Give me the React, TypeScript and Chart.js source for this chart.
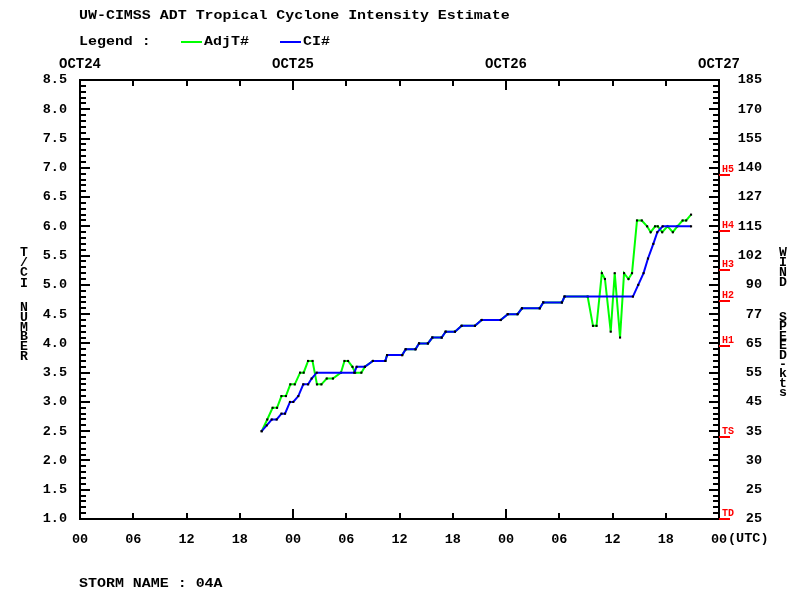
import React, { useEffect, useRef } from 'react';
import { Chart, registerables } from 'chart.js';

Chart.register(...registerables);

// ---------- text ----------
const TITLE = 'UW-CIMSS ADT Tropical Cyclone Intensity Estimate';
const LEGEND_CAPTION = 'Legend :';
const STORM_NAME = 'STORM NAME : 04A';
const SERIES_NAMES = ['AdjT#', 'CI#'];
const LEFT_AXIS_TITLE = ['T/CI', 'NUMBER'];
const RIGHT_AXIS_TITLE = ['WIND', 'SPEED-kts'];
const UTC_SUFFIX = '(UTC)';

// ---------- axes ----------
const DATE_LABELS = ['OCT24', 'OCT25', 'OCT26', 'OCT27'];
const HOUR_LABELS = ['00', '06', '12', '18', '00', '06', '12', '18', '00', '06', '12', '18', '00'];
// wind speed labels for CI = 1.0, 1.5, ... 8.5
const WIND_LABELS = ['25', '25', '30', '35', '45', '55', '65', '77', '90', '102', '115', '127', '140', '155', '170', '185'];
const CATEGORY_NAMES = ['TD', 'TS', 'H1', 'H2', 'H3', 'H4', 'H5'];
const CATEGORY_CI = [1.0, 2.4, 3.95, 4.73, 5.25, 5.92, 6.88];

// ---------- data (hours since OCT24 00 UTC) ----------
const ADJT_HOURS = [
  20.47, 21.1, 21.7, 22.2, 22.7, 23.2, 23.7, 24.2, 24.8, 25.2,
  25.7, 26.2, 26.7, 27.2, 27.8, 28.5, 29.4, 29.8, 30.2, 30.7,
  31.0, 31.7, 32.1, 33.0, 34.4, 34.6, 36.3, 36.7, 37.8, 38.2,
  39.2, 39.7, 40.75, 41.2, 42.25, 43.0, 44.5, 45.26, 47.4, 48.2,
  49.3, 49.8, 51.8, 52.2, 54.3, 54.6, 57.2, 57.8, 58.2, 58.8,
  59.15, 59.8, 60.25, 60.85, 61.3, 61.8, 62.2, 62.76, 63.3, 63.9,
  64.3, 64.8, 65.1, 65.6, 66.2, 66.8, 67.3, 67.9, 68.3, 68.85,
];
const ADJT_VALUES = [
  2.5, 2.7, 2.9, 2.9, 3.1, 3.1, 3.3, 3.3, 3.5, 3.5,
  3.7, 3.7, 3.3, 3.3, 3.4, 3.4, 3.5, 3.7, 3.7, 3.6,
  3.5, 3.5, 3.6, 3.7, 3.7, 3.8, 3.8, 3.9, 3.9, 4.0,
  4.0, 4.1, 4.1, 4.2, 4.2, 4.3, 4.3, 4.4, 4.4, 4.5,
  4.5, 4.6, 4.6, 4.7, 4.7, 4.8, 4.8, 4.3, 4.3, 5.2,
  5.1, 4.2, 5.2, 4.1, 5.2, 5.1, 5.2, 6.1, 6.1, 6.0,
  5.9, 6.0, 6.0, 5.9, 6.0, 5.9, 6.0, 6.1, 6.1, 6.2,
];
const CI_HOURS = [
  20.47, 21.04, 21.6, 22.16, 22.7, 23.1, 23.66, 24.03, 24.6, 25.16,
  25.7, 26.1, 26.67, 30.9, 31.17, 32.1, 33.0, 34.4, 34.6, 36.3,
  36.7, 37.8, 38.2, 39.2, 39.7, 40.75, 41.2, 42.25, 43.0, 44.5,
  45.26, 47.4, 48.2, 49.3, 49.8, 51.8, 52.2, 54.3, 54.6, 62.3,
  62.9, 63.5, 64.0, 64.6, 65.05, 65.65, 68.85,
];
const CI_VALUES = [
  2.5, 2.6, 2.7, 2.7, 2.8, 2.8, 3.0, 3.0, 3.1, 3.3,
  3.3, 3.4, 3.5, 3.5, 3.6, 3.6, 3.7, 3.7, 3.8, 3.8,
  3.9, 3.9, 4.0, 4.0, 4.1, 4.1, 4.2, 4.2, 4.3, 4.3,
  4.4, 4.4, 4.5, 4.5, 4.6, 4.6, 4.7, 4.7, 4.8, 4.8,
  5.0, 5.2, 5.45, 5.7, 5.9, 6.0, 6.0,
];

const GREEN = '#00ff00';
const BLUE = '#0000ff';
const RED = '#ff0000';
const MONO = '"Liberation Mono", "DejaVu Sans Mono", monospace';

function scaledText(ctx: CanvasRenderingContext2D, text: string, x: number, y: number, sx: number, align: CanvasTextAlign = 'left') {
  ctx.save();
  ctx.translate(x, y);
  ctx.scale(sx, 1);
  ctx.textAlign = align;
  ctx.fillText(text, 0, 0);
  ctx.restore();
}

const decorPlugin = {
  id: 'decor',
  afterDraw(chart: any) {
    const ctx: CanvasRenderingContext2D = chart.ctx;
    const { left, right, top, bottom } = chart.chartArea;
    const xs = chart.scales.x;
    const ys = chart.scales.y;
    ctx.save();

    // inward tick marks
    ctx.strokeStyle = '#000';
    ctx.lineWidth = 2;
    ctx.beginPath();
    for (let i = 10; i <= 85; i++) {
      const py = Math.round(ys.getPixelForValue(i / 10));
      const len = i % 5 === 0 ? 10 : 6;
      ctx.moveTo(left, py);
      ctx.lineTo(left + len, py);
      ctx.moveTo(right, py);
      ctx.lineTo(right - len, py);
    }
    for (let h = 0; h <= 72; h += 6) {
      const px = Math.round(xs.getPixelForValue(h));
      const len = h % 24 === 0 ? 10 : 6;
      ctx.moveTo(px, bottom);
      ctx.lineTo(px, bottom - len);
      ctx.moveTo(px, top);
      ctx.lineTo(px, top + len);
    }
    ctx.stroke();

    // category markers on the right axis
    ctx.fillStyle = RED;
    ctx.strokeStyle = RED;
    ctx.font = `bold 10px ${MONO}`;
    ctx.textBaseline = 'alphabetic';
    CATEGORY_NAMES.forEach((name, i) => {
      const py = Math.round(ys.getPixelForValue(CATEGORY_CI[i]));
      ctx.beginPath();
      ctx.moveTo(right, py);
      ctx.lineTo(right + 11, py);
      ctx.stroke();
      ctx.fillText(name, right + 3, py - 3);
    });

    // titles and legend
    ctx.fillStyle = '#000';
    ctx.font = `bold 13px ${MONO}`;
    ctx.textBaseline = 'middle';
    scaledText(ctx, TITLE, 79, 16, 1.15);
    scaledText(ctx, LEGEND_CAPTION, 79, 42, 1.15);
    scaledText(ctx, STORM_NAME, 79, 584, 1.15);

    const legendItems = [
      { name: SERIES_NAMES[0], color: GREEN, x0: 181 },
      { name: SERIES_NAMES[1], color: BLUE, x0: 280 },
    ];
    legendItems.forEach((it) => {
      ctx.strokeStyle = it.color;
      ctx.lineWidth = 2;
      ctx.beginPath();
      ctx.moveTo(it.x0, 42);
      ctx.lineTo(it.x0 + 21, 42);
      ctx.stroke();
      ctx.fillStyle = '#000';
      scaledText(ctx, it.name, it.x0 + 23, 42, 1.15);
    });

    // (UTC) after last hour label
    ctx.font = `bold 13.5px ${MONO}`;
    ctx.fillText(UTC_SUFFIX, right + 9, 539);

    // stacked vertical axis titles
    ctx.font = `bold 12px ${MONO}`;
    const stack = (words: string[], x: number, starts: number[], steps: number[]) => {
      words.forEach((w, wi) => {
        for (let k = 0; k < w.length; k++) {
          scaledText(ctx, w[k], x, starts[wi] + k * steps[wi], 1.1, 'center');
        }
      });
    };
    stack(LEFT_AXIS_TITLE, 24, [253, 308], [10.2, 9.8]);
    stack(RIGHT_AXIS_TITLE, 783, [253, 318], [10, 9.4]);

    ctx.restore();
  },
};

export default function App() {
  const ref = useRef<HTMLCanvasElement>(null);

  useEffect(() => {
    const canvas = ref.current;
    if (!canvas) return;
    const tickFont = { family: MONO, size: 13.5, weight: 'bold' as const };
    const chart = new Chart(canvas, {
      type: 'line',
      data: {
        datasets: [
          {
            label: SERIES_NAMES[1],
            data: CI_HOURS.map((h, i) => ({ x: h, y: CI_VALUES[i] })),
            borderColor: BLUE,
            borderWidth: 2,
            pointRadius: 1.5,
            pointStyle: 'rect',
            pointBackgroundColor: '#000',
            pointBorderWidth: 0,
            tension: 0,
            order: 1,
            xAxisID: 'x',
            yAxisID: 'y',
          },
          {
            label: SERIES_NAMES[0],
            data: ADJT_HOURS.map((h, i) => ({ x: h, y: ADJT_VALUES[i] })),
            borderColor: GREEN,
            borderWidth: 2,
            pointRadius: 1.5,
            pointStyle: 'rect',
            pointBackgroundColor: '#000',
            pointBorderWidth: 0,
            tension: 0,
            order: 2,
            xAxisID: 'x',
            yAxisID: 'y',
          },
        ],
      },
      options: {
        responsive: false,
        animation: false,
        devicePixelRatio: 1,
        events: [],
        layout: { padding: { left: 0, right: 38, top: 0, bottom: 0 } },
        plugins: { legend: { display: false }, tooltip: { enabled: false }, title: { display: false } },
        scales: {
          x: {
            type: 'linear',
            position: 'bottom',
            min: 0,
            max: 72,
            grid: { display: false, drawTicks: false },
            border: { display: true, color: '#000', width: 2 },
            ticks: {
              stepSize: 6,
              maxTicksLimit: 100,
              autoSkip: false,
              maxRotation: 0,
              padding: 12,
              color: '#000',
              font: tickFont,
              callback: (_v: any, i: number) => HOUR_LABELS[i],
            },
            afterFit: (s: any) => { s.height = 81; },
          },
          xTop: {
            type: 'linear',
            position: 'top',
            min: 0,
            max: 72,
            grid: { display: false, drawTicks: false },
            border: { display: true, color: '#000', width: 2 },
            ticks: {
              stepSize: 24,
              maxTicksLimit: 100,
              autoSkip: false,
              maxRotation: 0,
              padding: 7,
              color: '#000',
              font: { family: MONO, size: 14, weight: 'bold' },
              callback: (_v: any, i: number) => DATE_LABELS[i],
            },
            afterFit: (s: any) => { s.height = 80; },
          },
          y: {
            type: 'linear',
            position: 'left',
            min: 1,
            max: 8.5,
            grid: { display: false, drawTicks: false },
            border: { display: true, color: '#000', width: 2 },
            ticks: {
              stepSize: 0.5,
              maxTicksLimit: 100,
              autoSkip: false,
              padding: 13,
              color: '#000',
              font: tickFont,
              callback: (v: any) => Number(v).toFixed(1),
            },
            afterFit: (s: any) => { s.width = 80; },
          },
          y2: {
            type: 'linear',
            position: 'right',
            min: 1,
            max: 8.5,
            grid: { display: false, drawTicks: false },
            border: { display: true, color: '#000', width: 2 },
            ticks: {
              stepSize: 0.5,
              maxTicksLimit: 100,
              autoSkip: false,
              crossAlign: 'far',
              padding: 0,
              color: '#000',
              font: tickFont,
              callback: (_v: any, i: number) => WIND_LABELS[i],
            },
            afterFit: (s: any) => { s.width = 43; },
          },
        },
      },
      plugins: [decorPlugin],
    } as any);
    return () => chart.destroy();
  }, []);

  return (
    <div style={{ position: 'fixed', left: 0, top: 0, width: 800, height: 600, background: '#fff' }}>
      <canvas ref={ref} width={800} height={600} style={{ display: 'block', width: 800, height: 600 }} />
    </div>
  );
}
